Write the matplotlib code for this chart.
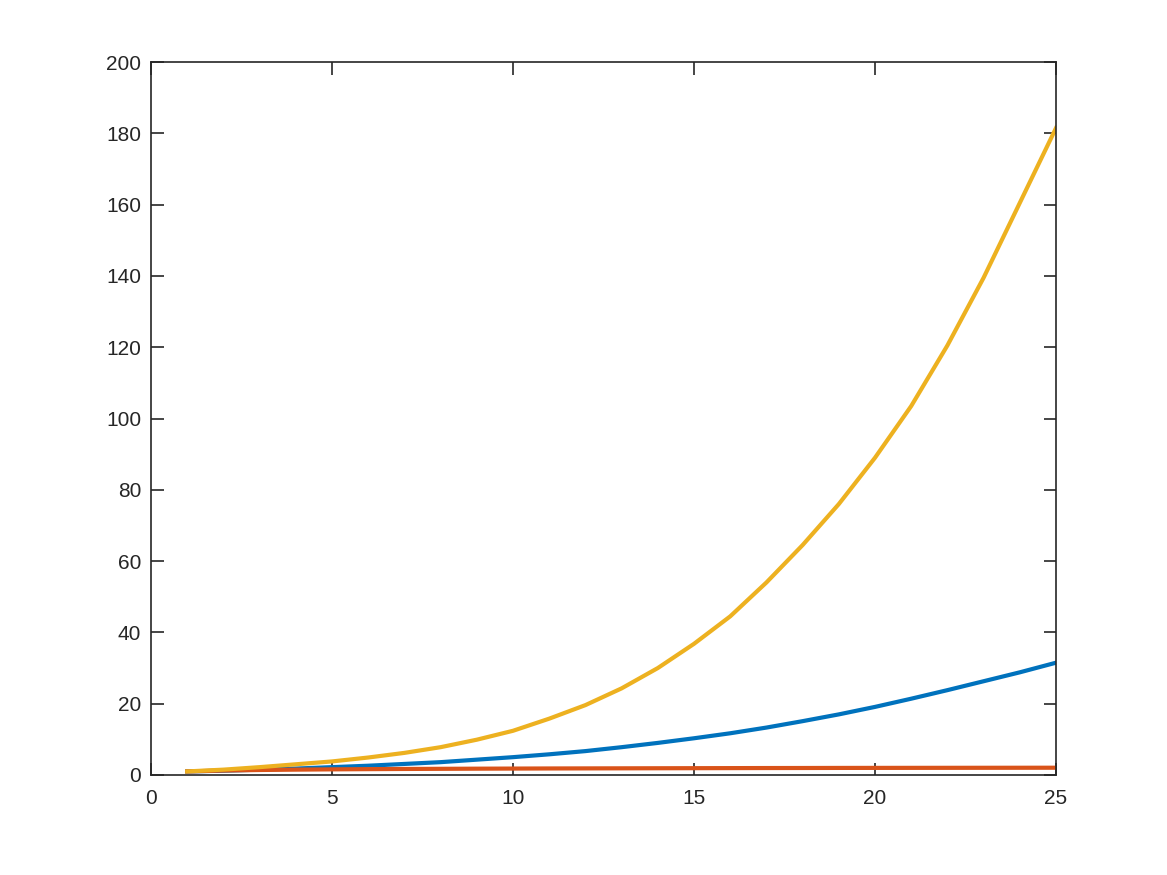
import numpy as np
import matplotlib
matplotlib.use('Agg')
import matplotlib.pyplot as plt

plt.rcParams['font.family'] = ['Liberation Sans', 'DejaVu Sans']

n = list(range(1, 26))
blue = [1.0, 1.2, 1.5, 1.8, 2.2, 2.6, 3.1, 3.6, 4.3, 5.0, 5.8, 6.7, 7.8, 9.0, 10.3,
        11.7, 13.3, 15.1, 17.0, 19.1, 21.4, 23.8, 26.3, 28.8, 31.5]
red = [1.0, 1.25, 1.4, 1.5, 1.58, 1.64, 1.69, 1.73, 1.77, 1.8, 1.83, 1.85, 1.87, 1.89, 1.91,
       1.93, 1.95, 1.96, 1.98, 1.99, 2.0, 2.01, 2.02, 2.03, 2.04]
yellow = [1.0, 1.5, 2.2, 3.0, 3.8, 4.9, 6.2, 7.8, 9.9, 12.4, 15.8, 19.6, 24.3, 30.0, 36.8,
          44.5, 54.0, 64.5, 76.0, 89.0, 103.5, 120.5, 139.5, 160.5, 181.5]

fig = plt.figure(figsize=(11.67, 8.75), dpi=100)
ax = fig.add_axes([0.1294, 0.1143, 0.7755, 0.8148])

ax.plot(n, blue, color='#0072BD', lw=3)
ax.plot(n, red, color='#D95319', lw=3)
ax.plot(n, yellow, color='#EDB120', lw=3)

ax.set_xlim(0, 25)
ax.set_ylim(0, 200)
ax.set_xticks(range(0, 26, 5))
ax.set_yticks(range(0, 201, 20))

# matlab style box with inward ticks
for s in ax.spines.values():
    s.set_color('#262626')
    s.set_linewidth(1.2)
ax.tick_params(direction='in', length=9, width=1.2, colors='#262626',
               labelsize=15, top=True, right=True)
ax.tick_params(axis='x', pad=10)
ax.tick_params(axis='y', pad=7)

fig.savefig('out.png', dpi=100)
